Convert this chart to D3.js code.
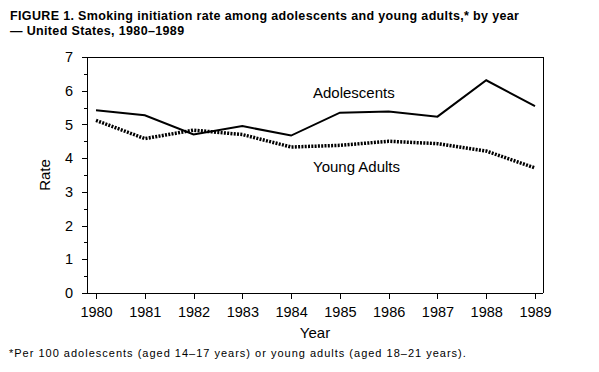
<!DOCTYPE html>
<meta charset="utf-8">
<style>
    body { margin: 0; background: #fff; }
    text { font-family: "Liberation Sans", Arial, sans-serif; fill: #000; }
    .axis path, .axis line { stroke: #000; stroke-width: 1px; shape-rendering: crispEdges; }
</style>
<svg width="599" height="372"></svg>
<script src="https://d3js.org/d3.v7.min.js"></script>
<script>
    var years = [1980, 1981, 1982, 1983, 1984, 1985, 1986, 1987, 1988, 1989];
    var adolescents = [5.42, 5.27, 4.70, 4.95, 4.67, 5.35, 5.38, 5.23, 6.31, 5.54];
    var youngAdults = [5.12, 4.58, 4.83, 4.70, 4.33, 4.38, 4.50, 4.43, 4.21, 3.71];
    var yTicks = [0, 1, 2, 3, 4, 5, 6, 7];

    var svg = d3.select("svg"),
        margin = { top: 57, right: 56, bottom: 79, left: 87 },
        width = +svg.attr("width") - margin.left - margin.right,
        height = +svg.attr("height") - margin.top - margin.bottom;

    // title
    svg.append("text").attr("x", 10).attr("y", 20)
        .style("font-weight", "bold").style("font-size", "12.5px").style("letter-spacing", "0.35px")
        .text("FIGURE 1. Smoking initiation rate among adolescents and young adults,* by year");
    svg.append("text").attr("x", 10).attr("y", 35)
        .style("font-weight", "bold").style("font-size", "12.5px").style("letter-spacing", "0.35px")
        .text("\u2014 United States, 1980\u20131989");

    var x = d3.scaleLinear().domain([1980, 1989]).range([9, width - 8]),
        y = d3.scaleLinear().domain([0, 7]).range([height, 0]);

    var g = svg.append("g")
        .attr("transform", "translate(" + margin.left + "," + margin.top + ")");

    // frame top + right
    g.append("path")
        .attr("d", "M0,0.5H" + (width + 0.5) + "V" + height)
        .attr("fill", "none").attr("stroke", "#000")
        .style("shape-rendering", "crispEdges");

    g.append("g")
        .attr("class", "axis")
        .attr("transform", "translate(0," + height + ")")
        .call(d3.axisBottom(x).tickValues(years).tickFormat(d3.format("d"))
            .tickSizeInner(6).tickSizeOuter(0).tickPadding(8))
        .select(".domain").attr("d", "M0,0.5H" + width);

    g.append("g")
        .attr("class", "axis")
        .call(d3.axisLeft(y).tickValues(d3.range(0.5, 7, 1)).tickFormat("")
            .tickSizeInner(3).tickSizeOuter(0));

    g.append("g")
        .attr("class", "axis")
        .call(d3.axisLeft(y).tickValues(yTicks).tickFormat(d3.format("d"))
            .tickSizeInner(5).tickSizeOuter(0).tickPadding(9));

    g.selectAll(".axis text").style("font-size", "14.5px");

    var line = d3.line()
        .x(function (d, i) { return x(years[i]); })
        .y(function (d) { return y(d); });

    g.append("path").datum(youngAdults)
        .attr("d", line).attr("fill", "none")
        .attr("stroke", "#000").attr("stroke-width", 3.5)
        .attr("stroke-dasharray", "2,1.3");

    g.append("path").datum(adolescents)
        .attr("d", line).attr("fill", "none")
        .attr("stroke", "#000").attr("stroke-width", 2);

    g.append("text").attr("x", 226).attr("y", 41)
        .style("font-size", "15px").text("Adolescents");
    g.append("text").attr("x", 226).attr("y", 115)
        .style("font-size", "15px").text("Young Adults");

    svg.append("text")
        .attr("transform", "translate(50," + (margin.top + height / 2) + ") rotate(-90)")
        .attr("text-anchor", "middle").style("font-size", "15px").text("Rate");

    svg.append("text")
        .attr("x", margin.left + width / 2).attr("y", 338)
        .attr("text-anchor", "middle").style("font-size", "15px").text("Year");

    svg.append("text").attr("x", 9).attr("y", 357)
        .style("font-size", "11px").style("letter-spacing", "1px")
        .text("*Per 100 adolescents (aged 14\u201317 years) or young adults (aged 18\u201321 years).");
</script>
